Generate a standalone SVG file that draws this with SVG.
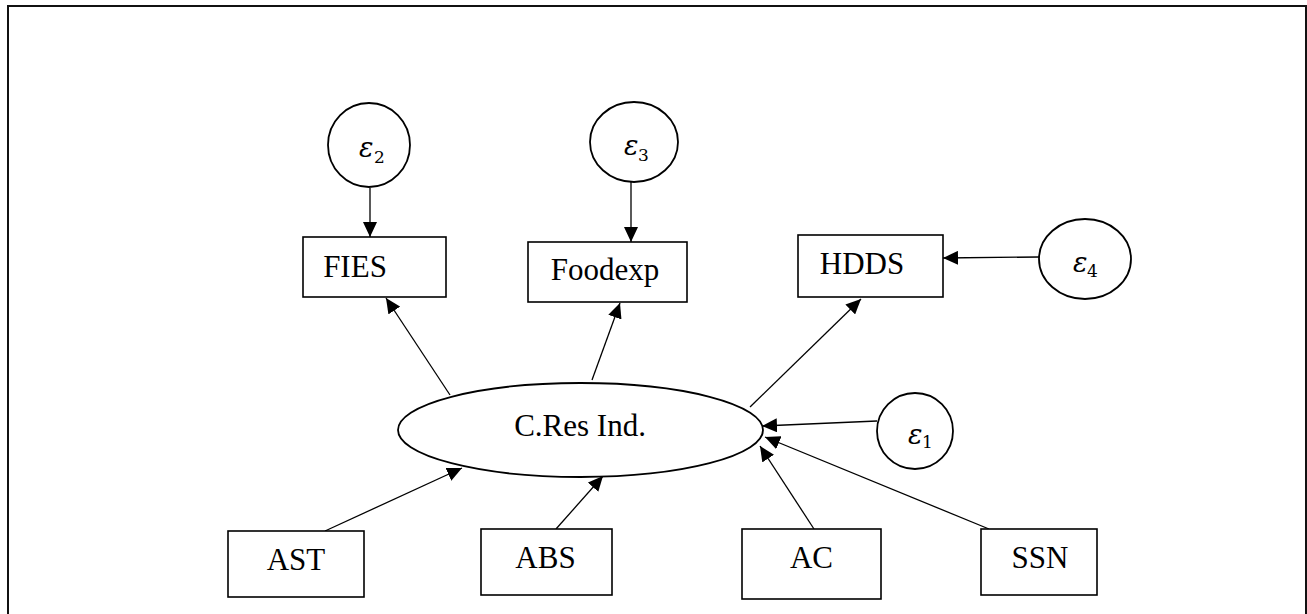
<svg xmlns="http://www.w3.org/2000/svg" width="1307" height="614" viewBox="0 0 1307 614">
<style>
.box{fill:#fff;stroke:#000;stroke-width:1.6}
.oval{fill:#fff;stroke:#000;stroke-width:1.8}
.lbl{font-family:"Liberation Serif","Times New Roman",serif;font-size:31px;fill:#000;text-anchor:middle}
.eps{font-family:"DejaVu Serif","Liberation Serif",serif;font-style:italic;font-size:27px;fill:#000}
.sub{font-family:"DejaVu Serif","Liberation Serif",serif;font-size:17px;fill:#000}
.edge{stroke:#000;stroke-width:1.3;fill:none;marker-end:url(#ah)}
</style>
<defs>
<marker id="ah" markerUnits="userSpaceOnUse" markerWidth="15" markerHeight="14" refX="15" refY="7" orient="auto">
<path d="M0,0 L15,7 L0,14 z" fill="#000"/>
</marker>
</defs>
<rect x="0" y="0" width="1307" height="614" fill="#fff"/>
<rect x="8" y="6" width="1298" height="700" fill="none" stroke="#111" stroke-width="2"/>

<g id="connectors">
<line class="edge" x1="370" y1="188" x2="370" y2="237"/>
<line class="edge" x1="631" y1="182" x2="631" y2="242"/>
<line class="edge" x1="1039" y1="257" x2="943" y2="258"/>
<line class="edge" x1="450" y1="395" x2="386" y2="298"/>
<line class="edge" x1="592" y1="380" x2="620" y2="303"/>
<line class="edge" x1="750" y1="407" x2="861" y2="299"/>
<line class="edge" x1="877" y1="421" x2="762" y2="426"/>
<line class="edge" x1="325" y1="531" x2="462" y2="468"/>
<line class="edge" x1="556" y1="529" x2="603" y2="476"/>
<line class="edge" x1="814" y1="529" x2="760" y2="446"/>
<line class="edge" x1="989" y1="529" x2="765" y2="437"/>
</g>

<g id="e2"><ellipse class="oval" cx="369" cy="145" rx="41" ry="42"/><text class="eps" x="359" y="157">ε</text><text class="sub" x="374" y="163">2</text></g>
<g id="e3"><ellipse class="oval" cx="634" cy="142" rx="44" ry="40"/><text class="eps" x="624" y="155">ε</text><text class="sub" x="638" y="161">3</text></g>
<g id="e4"><ellipse class="oval" cx="1085" cy="259" rx="46" ry="40"/><text class="eps" x="1073" y="272">ε</text><text class="sub" x="1087" y="277">4</text></g>
<g id="e1"><ellipse class="oval" cx="915" cy="431" rx="38" ry="38"/><text class="eps" x="908" y="444">ε</text><text class="sub" x="922" y="448">1</text></g>

<g id="FIES"><rect class="box" x="303" y="237" width="143" height="60"/><text class="lbl" x="355" y="277">FIES</text></g>
<g id="Foodexp"><rect class="box" x="528" y="242" width="159" height="60"/><text class="lbl" x="605" y="280">Foodexp</text></g>
<g id="HDDS"><rect class="box" x="798" y="235" width="145" height="62"/><text class="lbl" x="862" y="274">HDDS</text></g>

<g id="CRes"><ellipse class="oval" cx="580.5" cy="430" rx="182.5" ry="47"/><text class="lbl" x="580" y="436">C.Res Ind.</text></g>

<g id="AST"><rect class="box" x="228" y="531" width="136" height="66"/><text class="lbl" x="296" y="570">AST</text></g>
<g id="ABS"><rect class="box" x="481" y="529" width="131" height="66"/><text class="lbl" x="545.5" y="568">ABS</text></g>
<g id="AC"><rect class="box" x="742" y="529" width="139" height="70"/><text class="lbl" x="811.5" y="568">AC</text></g>
<g id="SSN"><rect class="box" x="981" y="529" width="116" height="66"/><text class="lbl" x="1040" y="568">SSN</text></g>
</svg>
